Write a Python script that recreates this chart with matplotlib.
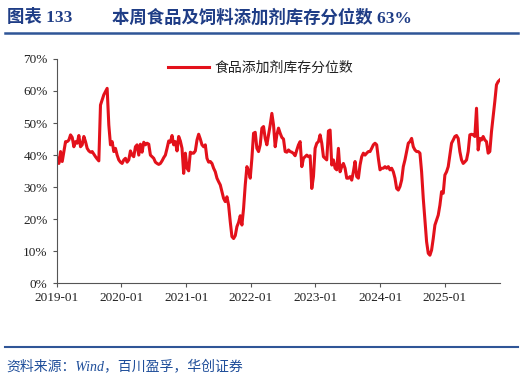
import matplotlib
matplotlib.use("Agg")
import matplotlib.pyplot as plt
import matplotlib.dates as mdates
from matplotlib.lines import Line2D
import pandas as pd

# series (about every 9-10 days), 2019-01 to 2025-11
start_date = "2019-01-04"
end_date = "2025-11-07"
values = [
    39.0, 37.4, 41.1, 38.0, 41.1, 44.2, 44.2, 44.7, 46.3, 45.5,
    42.6, 44.2, 43.7, 46.1, 42.6, 43.2, 45.8, 44.2, 42.1, 41.3,
    40.9, 41.1, 40.3, 39.5, 38.8, 38.2, 55.6, 57.2, 58.8, 59.8,
    60.8, 49.4, 43.2, 44.2, 41.1, 42.1, 40.0, 38.5, 37.8, 37.4,
    38.5, 39.0, 37.8, 38.5, 41.3, 40.0, 39.5, 42.6, 43.2, 40.0,
    43.4, 40.9, 44.0, 43.2, 43.7, 43.4, 40.0, 39.5, 39.0, 37.8,
    37.4, 37.1, 37.4, 38.2, 39.2, 40.0, 42.1, 44.4, 44.0, 46.1,
    43.2, 44.2, 41.3, 45.8, 44.4, 42.1, 34.3, 40.6, 35.9, 35.1,
    40.9, 40.6, 40.6, 41.3, 44.7, 46.5, 45.0, 43.2, 42.6, 43.2,
    39.0, 37.8, 38.0, 37.4, 35.9, 34.8, 32.8, 31.7, 30.7, 28.6,
    26.5, 25.5, 27.0, 24.4, 19.2, 14.6, 14.0, 14.9, 17.7, 19.0,
    21.1, 18.2, 23.4, 30.7, 36.4, 35.1, 32.8, 39.0, 46.8, 47.1,
    42.1, 41.1, 43.2, 48.4, 48.9, 45.2, 43.2, 46.3, 49.4, 53.0,
    49.4, 42.6, 46.3, 48.4, 46.8, 45.5, 45.0, 41.1, 40.9, 41.6,
    41.1, 40.9, 40.5, 39.8, 41.6, 43.2, 44.2, 36.4, 39.0, 39.5,
    40.0, 39.5, 39.8, 29.6, 33.3, 42.1, 43.7, 44.2, 46.3, 43.7,
    39.5, 39.0, 38.5, 47.5, 47.8, 36.9, 38.5, 35.9, 35.4, 42.1,
    34.8, 36.4, 37.4, 35.9, 32.8, 32.8, 33.3, 32.2, 34.8, 38.0,
    33.3, 32.8, 36.9, 39.5, 40.6, 40.0, 40.6, 41.1, 41.1, 42.1,
    43.2, 43.7, 43.2, 39.0, 35.4, 35.9, 35.9, 36.4, 35.9, 36.4,
    35.4, 35.9, 34.8, 32.8, 29.6, 29.1, 30.2, 32.2, 36.4, 38.5,
    41.1, 43.7, 44.2, 45.2, 42.6, 41.6, 41.1, 41.1, 40.6, 34.8,
    26.5, 19.8, 13.0, 9.4, 8.8, 10.4, 14.0, 18.2, 19.8, 21.3,
    24.4, 28.6, 28.1, 33.8, 34.8, 36.4, 40.0, 43.7, 44.7, 45.8,
    46.1, 45.2, 41.1, 38.5, 37.4, 37.9, 38.5, 41.1, 46.3, 46.5,
    46.3, 45.8, 54.6, 41.6, 45.2, 44.7, 45.8, 44.7, 44.2, 40.6,
    41.1, 47.3, 52.0, 56.7, 61.9, 62.9, 63.4,
]
series_name = "食品添加剂库存分位数"
tick_dates = ["2019-01", "2020-01", "2021-01", "2022-01", "2023-01", "2024-01", "2025-01"]
y_ticks = [0, 10, 20, 30, 40, 50, 60, 70]

dates = pd.date_range(start_date, end_date, periods=len(values))

fonts = ["Liberation Serif", "Noto Sans CJK SC", "DejaVu Sans"]
plt.rcParams["font.family"] = fonts

fig = plt.figure(figsize=(5.25, 3.82), dpi=100)
ax = fig.add_axes([0.108, 0.258, 0.844, 0.588])

ax.plot(dates, values, color="#E3111B", linewidth=2.2, label=series_name)

ax.set_ylim(0, 70)
ax.set_yticks(y_ticks)
ax.set_yticklabels([f"{v}%" for v in y_ticks])
ax.set_xlim(pd.Timestamp("2019-01-01"), dates[-1])
ax.set_xticks([pd.Timestamp(d + "-01") for d in tick_dates])
ax.xaxis.set_major_formatter(mdates.DateFormatter("%Y-%m"))

for s in ["top", "right"]:
    ax.spines[s].set_visible(False)
for s in ["left", "bottom"]:
    ax.spines[s].set_color("#555555")
    ax.spines[s].set_linewidth(0.8)
ax.tick_params(axis="both", direction="out", length=3, width=0.8,
               color="#555555", labelsize=9.5, labelcolor="#222222")
ax.tick_params(axis="x", pad=3)

leg = ax.legend(loc="upper center", bbox_to_anchor=(0.46, 1.045), frameon=False,
                fontsize=10, handlelength=2.9, handletextpad=0.4)
for t in leg.get_texts():
    t.set_color("#222222")

# title and separator lines
blue = "#1F3D86"
fig.text(0.013, 0.953, "图表 133", fontsize=12.5, fontweight="bold",
         color=blue, va="center", ha="left")
fig.text(0.213, 0.953, "本周食品及饲料添加剂库存分位数 63%", fontsize=12.5,
         fontweight="bold", color=blue, va="center", ha="left")
fig.add_artist(Line2D([0.01, 0.987], [0.913, 0.913], color="#2F5597", linewidth=1.8))
fig.add_artist(Line2D([0.01, 0.987], [0.092, 0.092], color="#2F5597", linewidth=1.5))
fig.text(0.013, 0.042, "资料来源：Wind，百川盈孚，华创证券", fontsize=10,
         style="italic", color="#1F4E9A", va="center", ha="left")

fig.savefig("out.png", dpi=100)
